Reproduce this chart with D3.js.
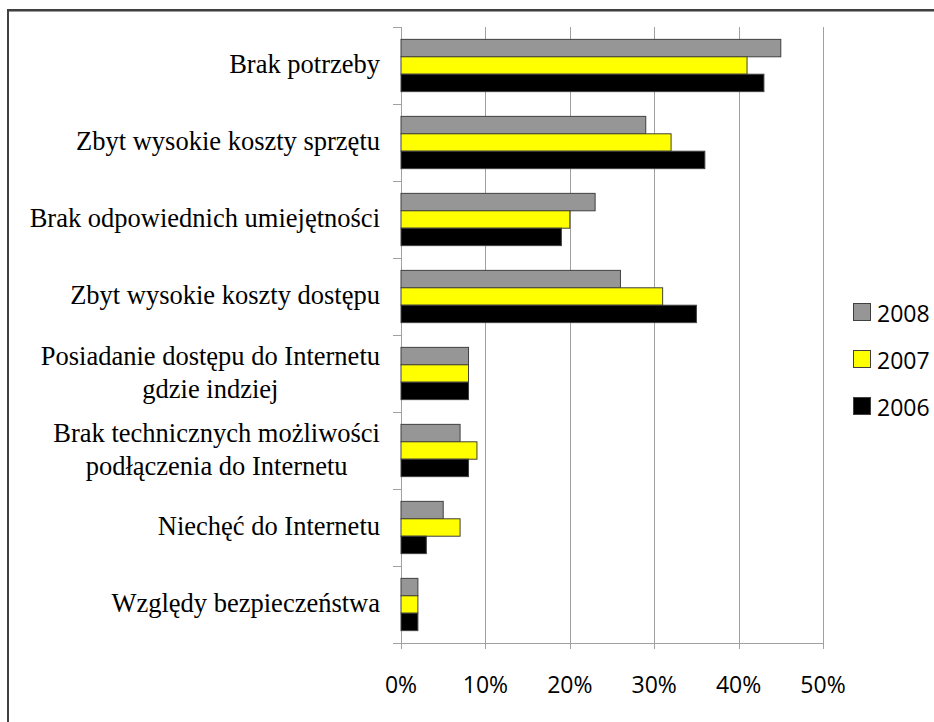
<!DOCTYPE html>
<html><head><meta charset="utf-8">
<script src="https://cdn.jsdelivr.net/npm/d3@7"></script>
<style>
html,body{margin:0;padding:0;background:#fff;}
svg{display:block;}
</style></head>
<body>
<svg id="chart" width="934" height="722"></svg>
<script>
const categories = [
  "Brak potrzeby",
  "Zbyt wysokie koszty sprzętu",
  "Brak odpowiednich umiejętności",
  "Zbyt wysokie koszty dostępu",
  "Posiadanie dostępu do Internetu\ngdzie indziej",
  "Brak technicznych możliwości\npodłączenia do Internetu",
  "Niechęć do Internetu",
  "Względy bezpieczeństwa"
];
const seriesNames = ["2008", "2007", "2006"];
const values2008 = [0.45, 0.29, 0.23, 0.26, 0.08, 0.07, 0.05, 0.02];
const values2007 = [0.41, 0.32, 0.20, 0.31, 0.08, 0.09, 0.07, 0.02];
const values2006 = [0.43, 0.36, 0.19, 0.35, 0.08, 0.08, 0.03, 0.02];
const seriesColors = ["#969696", "#FFFF00", "#000000"];
const tickValues = [0, 0.1, 0.2, 0.3, 0.4, 0.5];

const seriesValues = [values2008, values2007, values2006];

const svg = d3.select("#chart");

// outer frame
svg.append("line").attr("x1", 8).attr("x2", 934).attr("y1", 10).attr("y2", 10)
  .attr("stroke", "#000").attr("stroke-width", 1.5);
svg.append("line").attr("x1", 8).attr("x2", 934).attr("y1", 11.5).attr("y2", 11.5)
  .attr("stroke", "#999").attr("stroke-width", 1);
svg.append("line").attr("x1", 8).attr("x2", 8).attr("y1", 9).attr("y2", 722)
  .attr("stroke", "#404040").attr("stroke-width", 2);

const plotLeft = 401, plotRight = 823, plotTop = 27, plotBottom = 643;

const x = d3.scaleLinear().domain([0, 0.5]).range([plotLeft, plotRight]);
const y = d3.scaleBand().domain(categories).range([plotTop, plotBottom]).paddingInner(0).paddingOuter(0);
const inner = d3.scaleBand().domain(seriesNames).range([0, y.bandwidth()]).paddingOuter(0.71).paddingInner(0);

// gridlines
svg.append("g").selectAll("line").data(tickValues).join("line")
  .attr("x1", d => Math.round(x(d)) + 0.5).attr("x2", d => Math.round(x(d)) + 0.5)
  .attr("y1", plotTop).attr("y2", plotBottom + 6)
  .attr("stroke", "#a0a0a0").attr("stroke-width", 1);

// bottom axis line
svg.append("line").attr("x1", plotLeft - 8).attr("x2", plotRight + 0.5)
  .attr("y1", plotBottom + 0.5).attr("y2", plotBottom + 0.5)
  .attr("stroke", "#a0a0a0").attr("stroke-width", 1);

// category ticks
const bounds = categories.map(c => y(c)).concat([plotBottom]);
svg.append("g").selectAll("line").data(bounds).join("line")
  .attr("x1", plotLeft - 8).attr("x2", plotLeft)
  .attr("y1", d => Math.round(d) + 0.5).attr("y2", d => Math.round(d) + 0.5)
  .attr("stroke", "#a0a0a0").attr("stroke-width", 1);

// bars
const barData = [];
categories.forEach((c, i) => {
  seriesNames.forEach((s, j) => {
    barData.push({cat: c, series: s, value: seriesValues[j][i], color: seriesColors[j]});
  });
});
svg.append("g").selectAll("rect").data(barData).join("rect")
  .attr("x", x(0))
  .attr("y", d => y(d.cat) + inner(d.series))
  .attr("width", d => x(d.value) - x(0))
  .attr("height", inner.bandwidth())
  .attr("fill", d => d.color)
  .attr("stroke", "#404040").attr("stroke-width", 1);

// x tick labels
const fmt = d3.format(".0%");
svg.append("g").selectAll("text").data(tickValues).join("text")
  .attr("x", d => x(d)).attr("y", 693)
  .attr("text-anchor", "middle")
  .attr("font-family", "'Open Sans', sans-serif").attr("font-size", 23)
  .attr("fill", "#000")
  .text(d => fmt(d));

// category labels
const labelRight = 380;
const lineGap = 33;
categories.forEach(c => {
  const lines = c.split("\n");
  const cy = y(c) + y.bandwidth() / 2;
  const g = svg.append("g");
  const texts = lines.map((ln, k) => g.append("text")
    .attr("y", cy + 7.8 + (k - (lines.length - 1) / 2) * lineGap)
    .attr("font-family", "'Liberation Serif', 'Times New Roman', serif")
    .attr("font-size", 26.5)
    .attr("fill", "#000")
    .text(ln));
  if (lines.length === 1) {
    texts[0].attr("x", labelRight).attr("text-anchor", "end");
  } else {
    const w = d3.max(texts, t => t.node().getComputedTextLength());
    texts.forEach(t => t.attr("x", labelRight - w / 2).attr("text-anchor", "middle"));
  }
});

// legend
const legend = svg.append("g");
seriesNames.forEach((s, j) => {
  const ly = 312 + j * 47;
  legend.append("rect").attr("x", 853.5).attr("y", ly - 8.5).attr("width", 17).attr("height", 17)
    .attr("fill", seriesColors[j]).attr("stroke", "#404040").attr("stroke-width", 1);
  legend.append("text").attr("x", 877).attr("y", ly + 9.5)
    .attr("font-family", "'Open Sans', sans-serif").attr("font-size", 23)
    .attr("fill", "#000").text(s);
});
</script>
</body></html>
